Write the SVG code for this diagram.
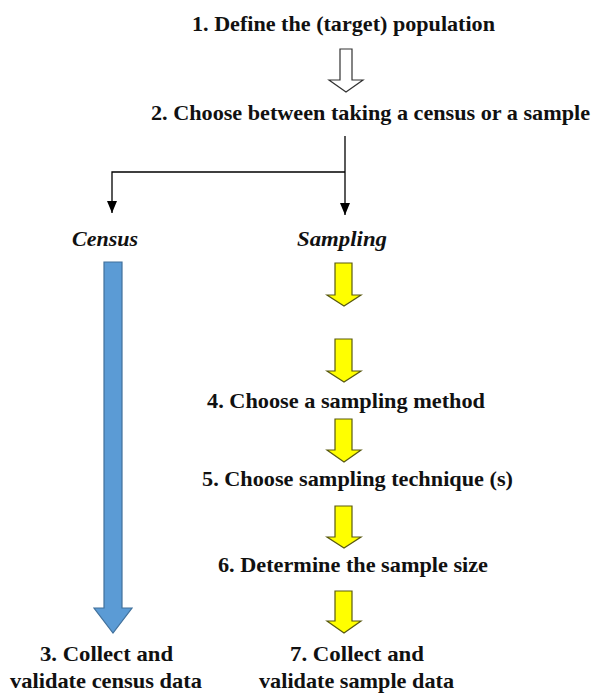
<svg xmlns="http://www.w3.org/2000/svg" width="594" height="693" viewBox="0 0 594 693">
<defs>
<style>
.t{font-family:"Liberation Serif","Times New Roman",serif;font-weight:bold;font-size:21px;fill:#111;text-anchor:middle}
.i{font-style:italic}
.y{fill:#ffff00;stroke:#5a5a10;stroke-width:1.2}
.b{fill:#5b9bd5;stroke:#41719c;stroke-width:1.2}
.ln{stroke:#000;stroke-width:1.3;fill:none}
</style>
<marker id="ah" markerWidth="12" markerHeight="10" refX="12" refY="5" orient="auto" markerUnits="userSpaceOnUse" viewBox="0 0 12 10">
<path d="M0,0 L12,5 L0,10 Z" fill="#000"/>
</marker>
</defs>
<rect width="594" height="693" fill="#fff"/>
<g id="n1"><text class="t" x="343.5" y="31" textLength="303" lengthAdjust="spacingAndGlyphs">1. Define the (target) population</text></g>
<g id="n2"><text class="t" x="370.5" y="120" textLength="439" lengthAdjust="spacingAndGlyphs">2. Choose between taking a census or a sample</text></g>
<g id="census"><text class="t i" x="105" y="246" textLength="66" lengthAdjust="spacingAndGlyphs">Census</text></g>
<g id="sampling"><text class="t i" x="342" y="246" textLength="90" lengthAdjust="spacingAndGlyphs">Sampling</text></g>
<g id="n4"><text class="t" x="346" y="408" textLength="278" lengthAdjust="spacingAndGlyphs">4. Choose a sampling method</text></g>
<g id="n5"><text class="t" x="357.5" y="486" textLength="311" lengthAdjust="spacingAndGlyphs">5. Choose sampling technique (s)</text></g>
<g id="n6"><text class="t" x="353" y="572" textLength="270" lengthAdjust="spacingAndGlyphs">6. Determine the sample size</text></g>
<g id="n3"><text class="t" x="106.5" y="661" textLength="133" lengthAdjust="spacingAndGlyphs">3. Collect and</text><text class="t" x="106" y="688" textLength="192" lengthAdjust="spacingAndGlyphs">validate census data</text></g>
<g id="n7"><text class="t" x="357" y="661" textLength="134" lengthAdjust="spacingAndGlyphs">7. Collect and</text><text class="t" x="356.5" y="688" textLength="195" lengthAdjust="spacingAndGlyphs">validate sample data</text></g>
<g id="connectors">
<path class="ln" d="M345,136 V215" marker-end="url(#ah)"/>
<path class="ln" d="M345,172 H112 V213" marker-end="url(#ah)"/>
<path d="M340,49 H352 V80 H363 L346,92 L329,80 H340 Z" fill="#fff" stroke="#333" stroke-width="1.2"/>
<path class="b" d="M104,262 H122 V608 H132 L113,633 L94,608 H104 Z"/>
<path class="y" d="M335,263 H352 V295 H361 L344,306 L327,295 H335 Z"/>
<path class="y" d="M335,339 H352 V371 H361 L344,382 L327,371 H335 Z"/>
<path class="y" d="M335,419 H352 V450 H361 L344,462 L327,450 H335 Z"/>
<path class="y" d="M335,506 H352 V537 H361 L344,548 L327,537 H335 Z"/>
<path class="y" d="M335,591 H352 V621 H361 L344,633 L327,621 H335 Z"/>
</g>
</svg>
